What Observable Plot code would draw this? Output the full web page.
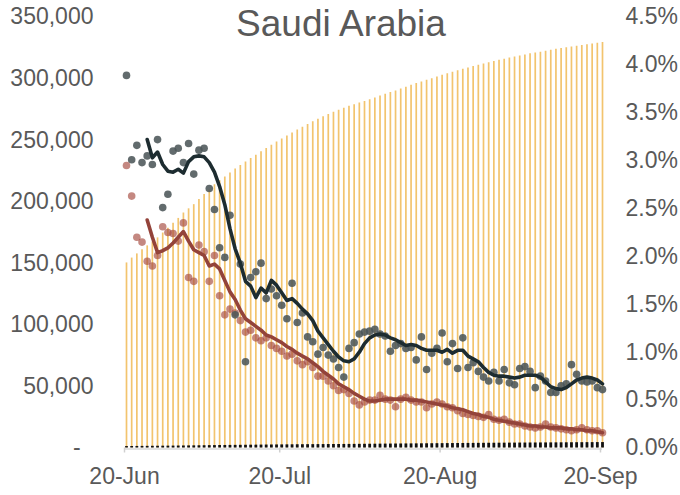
<!DOCTYPE html>
<html>
<head>
<meta charset="utf-8">
<script src="https://cdn.jsdelivr.net/npm/d3@7"></script>
<script src="https://cdn.jsdelivr.net/npm/@observablehq/plot@0.6"></script>
<style>
  html, body { margin: 0; padding: 0; background: #fff; }
  #chart { width: 680px; height: 495px; }
</style>
</head>
<body>
<div id="chart"></div>
<script>
const title = "Saudi Arabia";
const startDate = "2020-06-20";

// cumulative cases (left axis)
const cases = [150292,154233,157612,161005,164144,167267,170639,174577,178504,182493,186436,190823,
  194225,197608,201801,205929,209509,213716,217108,220144,223327,226486,229480,232259,235111,237803,
  240474,243238,245851,248416,250920,253349,255825,258156,260394,262772,264973,266941,268934,270831,
  272590,274219,275905,277478,278835,280093,281456,282824,284226,285793,287262,288690,289947,291468,
  293037,294519,295902,297315,298542,299914,301323,302686,303973,305186,306370,307479,308654,309768,
  310836,311855,312924,313911,314821,315772,316670,317486,318319,319141,320088,320688,321456,322237,
  323012,323720,324407,325050,325651,326258,326930,327551,328144,328720,329271];

// cumulative deaths (left axis)
const deaths = [1184,1230,1267,1307,1346,1387,1428,1474,1511,1551,1599,1649,1698,1752,1802,1858,1916,
  1968,2017,2059,2100,2151,2181,2223,2283,2325,2370,2407,2447,2486,2523,2557,2601,2635,2672,2703,2733,
  2760,2789,2816,2842,2866,2887,2917,2949,2984,3020,3055,3080,3130,3167,3199,3233,3269,3303,3338,3369,
  3409,3436,3470,3506,3539,3580,3619,3656,3689,3722,3757,3786,3817,3849,3870,3897,3930,3956,3982,4011,
  4037,4069,4081,4107,4130,4156,4183,4210,4237,4268,4300,4325,4349,4369,4399,4420];

// daily rates, % (right axis)
const grayDots = [3.89,3.01,3.16,2.98,3.05,2.96,3.22,2.51,2.65,3.10,3.13,2.98,3.18,2.86,3.11,3.13,2.71,
  2.49,2.09,1.99,2.43,1.39,1.92,0.90,1.78,1.84,1.93,1.56,1.66,1.59,1.49,1.35,1.72,1.31,1.41,1.16,1.11,
  0.98,1.05,0.97,0.93,0.84,0.74,1.04,1.10,1.19,1.21,1.22,1.24,1.19,1.17,1.01,1.07,1.09,1.04,1.05,0.92,
  1.16,0.82,0.99,1.04,1.20,0.90,1.09,0.83,1.15,0.84,0.89,0.80,0.74,0.70,0.79,0.70,0.82,0.68,0.66,0.83,
  0.85,0.80,0.63,0.75,0.70,0.58,0.58,0.65,0.67,0.87,0.77,0.70,0.69,0.70,0.63,0.61];

const redDots = [2.95,2.63,2.20,2.15,1.95,1.90,2.01,2.31,2.25,2.24,2.16,2.35,1.78,1.74,2.12,2.05,1.74,
  2.01,1.59,1.39,1.45,1.41,1.33,1.21,1.23,1.15,1.12,1.15,1.07,1.04,1.01,0.96,0.98,0.91,0.87,0.90,0.84,
  0.75,0.75,0.70,0.65,0.60,0.61,0.57,0.49,0.45,0.48,0.50,0.50,0.55,0.51,0.50,0.43,0.51,0.53,0.50,0.48,
  0.48,0.42,0.46,0.48,0.46,0.43,0.42,0.39,0.36,0.35,0.34,0.33,0.32,0.35,0.30,0.29,0.30,0.27,0.25,0.25,
  0.23,0.22,0.21,0.22,0.25,0.22,0.21,0.20,0.19,0.18,0.19,0.21,0.19,0.18,0.18,0.16];

const grayLine = [null,null,null,null,3.22,3.03,3.09,2.96,2.89,2.88,2.91,2.87,2.99,3.04,3.05,3.04,2.98,
  2.88,2.73,2.54,2.29,2.08,1.93,1.74,1.69,1.57,1.67,1.62,1.75,1.70,1.62,1.54,1.56,1.51,1.45,1.40,1.33,
  1.22,1.15,1.08,1.01,0.95,0.91,0.90,0.93,1.00,1.09,1.15,1.18,1.19,1.18,1.15,1.13,1.10,1.07,1.08,1.07,
  1.04,1.02,1.02,1.02,1.00,1.03,0.99,1.02,1.02,0.96,0.93,0.90,0.84,0.79,0.76,0.75,0.75,0.74,0.73,0.74,
  0.76,0.76,0.76,0.74,0.69,0.64,0.62,0.61,0.63,0.67,0.71,0.73,0.74,0.73,0.71,0.67];

const redLine = [null,null,null,null,2.38,2.20,2.04,2.06,2.09,2.14,2.20,2.26,2.16,2.07,2.04,2.01,1.90,
  1.92,1.87,1.75,1.63,1.55,1.44,1.35,1.31,1.27,1.23,1.18,1.16,1.13,1.10,1.06,1.03,0.99,0.96,0.93,0.89,
  0.85,0.80,0.76,0.72,0.67,0.64,0.61,0.57,0.54,0.51,0.49,0.49,0.50,0.51,0.51,0.51,0.51,0.51,0.50,0.50,
  0.49,0.48,0.47,0.46,0.45,0.44,0.42,0.41,0.40,0.38,0.36,0.35,0.33,0.32,0.30,0.29,0.28,0.27,0.26,0.25,
  0.24,0.23,0.23,0.22,0.22,0.21,0.21,0.21,0.20,0.20,0.19,0.19,0.18,0.18,0.17,0.16];

const leftTicks = [0, 50000, 100000, 150000, 200000, 250000, 300000, 350000];
const rightTicks = [0, 0.5, 1, 1.5, 2, 2.5, 3, 3.5, 4, 4.5];
const xTickDates = ["2020-06-20", "2020-07-20", "2020-08-20", "2020-09-20"];
const xTickLabels = ["20-Jun", "20-Jul", "20-Aug", "20-Sep"];

// ---- build table ----
const leftMax = 350000, rightMax = 4.5;
const k = leftMax / rightMax; // % -> left units
const t0 = new Date(startDate + "T00:00:00Z");
const rows = cases.map((c, i) => ({
  date: d3.utcDay.offset(t0, i),
  cases: c,
  deaths: deaths[i],
  gDot: grayDots[i] * k,
  rDot: redDots[i] * k,
  gLine: grayLine[i] == null ? NaN : grayLine[i] * k,
  rLine: redLine[i] == null ? NaN : redLine[i] * k
}));
const xTicks = xTickDates.map(s => new Date(s + "T00:00:00Z"));
const labelOf = new Map(xTicks.map((d, i) => [+d, xTickLabels[i]]));

const textColor = "#595959";
const chart = Plot.plot({
  width: 680,
  height: 495,
  marginLeft: 126,
  marginRight: 78,
  marginTop: 16.5,
  marginBottom: 47.5,
  style: { fontFamily: "'Liberation Sans', Arial, sans-serif", fontSize: "23px", color: textColor, background: "#fff" },
  x: { type: "utc", domain: [rows[0].date, rows[rows.length - 1].date] },
  y: { domain: [0, leftMax] },
  marks: [
    Plot.ruleX(rows, { x: "date", y: "cases", stroke: "#F2C46E", strokeWidth: 1.7 }),
    Plot.ruleX(rows, { x: "date", y: "deaths", stroke: "#111111", strokeWidth: 2.8 }),
    Plot.ruleY([0], { stroke: "#d9d9d9", strokeWidth: 1.5, dy: 1, insetLeft: -2 }),
    Plot.dot(rows, { x: "date", y: "rDot", r: 3.8, fill: "#a54a3f", fillOpacity: 0.66, stroke: "none" }),
    Plot.dot(rows, { x: "date", y: "gDot", r: 3.8, fill: "#4c5759", fillOpacity: 0.88, stroke: "none" }),
    Plot.line(rows, { x: "date", y: "rLine", stroke: "#93433a", strokeWidth: 3.6, curve: "linear", strokeLinejoin: "round" }),
    Plot.line(rows, { x: "date", y: "gLine", stroke: "#1d2c30", strokeWidth: 3.6, curve: "linear", strokeLinejoin: "round" }),
    Plot.axisY(leftTicks, {
      anchor: "left", tickSize: 0, tickPadding: 33, fill: textColor,
      tickFormat: v => v === 0 ? "-\u00a0\u00a0" : d3.format(",")(v)
    }),
    Plot.axisY(rightTicks.map(p => p * k), {
      anchor: "right", tickSize: 0, tickPadding: 23, fill: textColor,
      tickFormat: v => (v / k).toFixed(1) + "%"
    }),
    Plot.axisX(xTicks, {
      anchor: "bottom", tickSize: 5, tickPadding: 15, stroke: "#d0d0d0", strokeWidth: 1.5,
      fill: textColor, dx: -2, tickFormat: d => labelOf.get(+d), label: null
    }),
    Plot.text([title], {
      text: d => d, frameAnchor: "top-left", dx: 340.5 - 126, dy: 6.7,
      textAnchor: "middle", lineAnchor: "middle", fontSize: 37, fill: textColor
    })
  ]
});
document.getElementById("chart").appendChild(chart);
</script>
</body>
</html>
